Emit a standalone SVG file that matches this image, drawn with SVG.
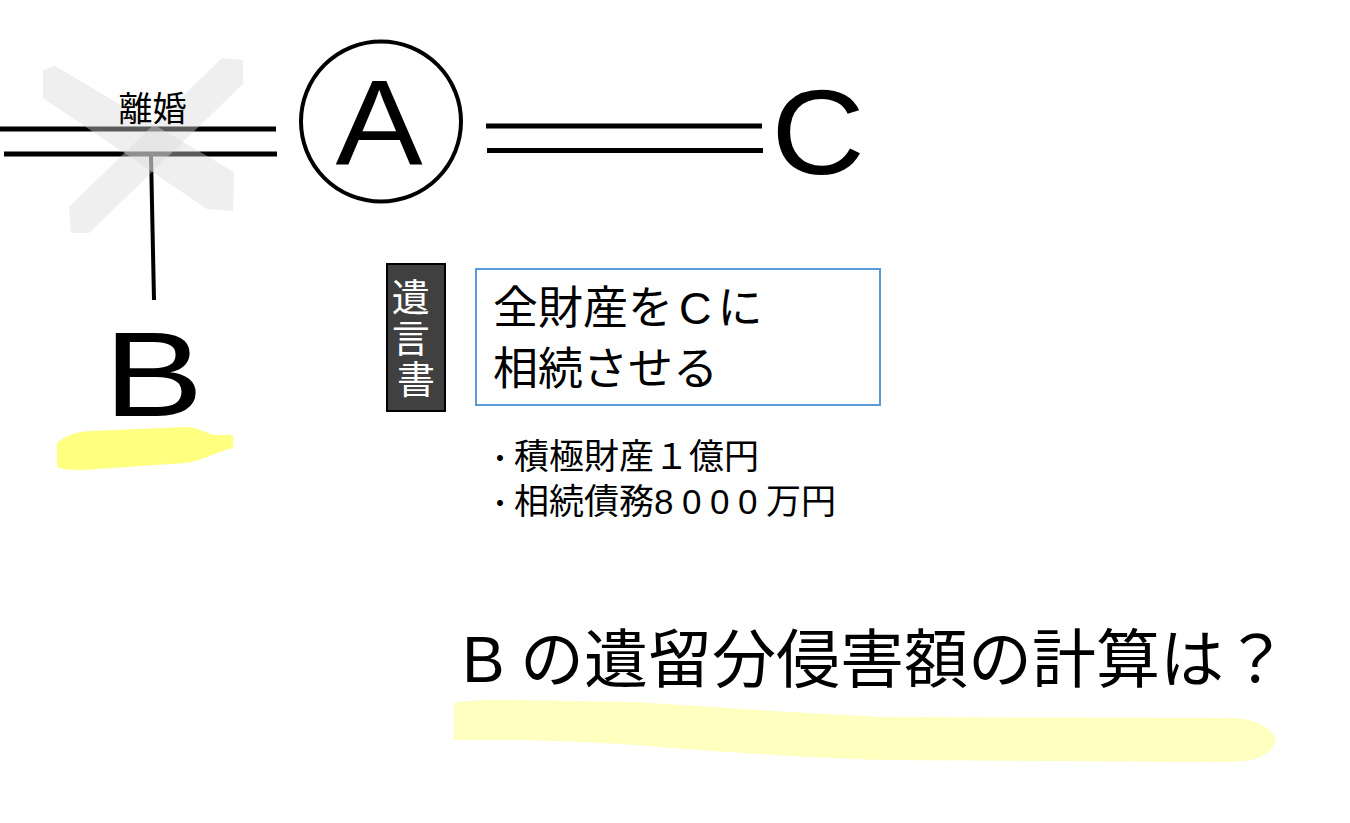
<svg xmlns="http://www.w3.org/2000/svg" width="1350" height="823" viewBox="0 0 1350 823">
<style>
.ln{stroke:#000;stroke-width:5;fill:none}
.big{font-family:"Liberation Sans","Noto Sans CJK JP",sans-serif;font-size:120px;fill:#000;text-anchor:middle}
.jp{font-family:"Liberation Sans","Noto Sans CJK JP",sans-serif;fill:#000}
.xm{fill:#d9d9d9;opacity:0.42}
</style>
<rect width="1350" height="823" fill="#fff"/>

<g id="highlights">
<path d="M57,443 C65,436 75,432 90,431 L187,427 C200,428 207,434 215,435 L233,435 L233,448 C215,452 200,462 185,463 L83,470 C70,470 60,469 57,467 Z" fill="#ffff80"/>
<path d="M454,703 C470,700 490,700 500,700 L632,702 C700,706 800,713 880,717 L1237,718 C1255,720 1270,727 1275,737 L1275,743 C1272,752 1262,758 1245,761 L1220,762 L880,760 C800,757 720,752 660,747 C600,742 540,740 506,740 L454,740 Z" fill="#ffffc0"/>
</g>

<g id="connectors">
<line class="ln" x1="0" y1="129" x2="276" y2="129"/>
<line class="ln" x1="4" y1="154" x2="277" y2="154"/>
<line x1="151" y1="156" x2="154" y2="300" stroke="#000" stroke-width="4"/>
<line class="ln" x1="486" y1="126" x2="762" y2="126"/>
<line class="ln" x1="487" y1="150.5" x2="763" y2="150.5"/>
</g>

<g id="divorce-mark">
<path class="xm" d="M43,70 L55,66 L234,172 L233,211 L207,209 L43,98 Z"/>
<path class="xm" d="M222,58 L243,60 L243,84 L89,233 L71,233 L69,207 Z"/>
</g>

<g id="divorce-label">
<text class="jp" x="152.5" y="121" font-size="34" text-anchor="middle">離婚</text>
</g>

<g id="nodeA">
<circle cx="381" cy="121.5" r="80" fill="none" stroke="#000" stroke-width="4"/>
<text class="big" transform="translate(379,164) scale(1.09,1)" x="0" y="0">A</text>
</g>

<g id="nodeC">
<text class="big" font-size="118" transform="translate(818,174) scale(1.08,1)" x="0" y="0">C</text>
</g>

<g id="nodeB">
<text class="big" font-size="118" transform="translate(153.5,416) scale(1.25,1)" x="0" y="0">B</text>
</g>

<g id="will-label">
<rect x="387" y="264" width="58" height="147" fill="#404040" stroke="#000" stroke-width="2"/>
<text class="jp" font-size="38" style="fill:#fff" text-anchor="middle">
<tspan x="416" y="311">遺</tspan>
<tspan x="416" y="352">言</tspan>
<tspan x="416" y="393">書</tspan>
</text>
</g>

<g id="will-content">
<rect x="476" y="269" width="404" height="136" fill="#fff" stroke="#5b9bd5" stroke-width="2"/>
<text class="jp" font-size="45" x="493" y="324">全財産を<tspan dx="6">C</tspan><tspan dx="6">に</tspan></text>
<text class="jp" font-size="45" x="493" y="385">相続させる</text>
</g>

<g id="estate">
<text class="jp" font-size="35" x="486" y="469"><tspan font-size="28">・</tspan>積極財産１億円</text>
<text class="jp" font-size="35" x="486" y="514"><tspan font-size="28">・</tspan>相続債務<tspan letter-spacing="8.5">8000</tspan>万円</text>
</g>

<g id="question">
<text class="jp" font-size="64" x="462" y="682">B<tspan x="520">の遺留分侵害額の計算は？</tspan></text>
</g>
</svg>
